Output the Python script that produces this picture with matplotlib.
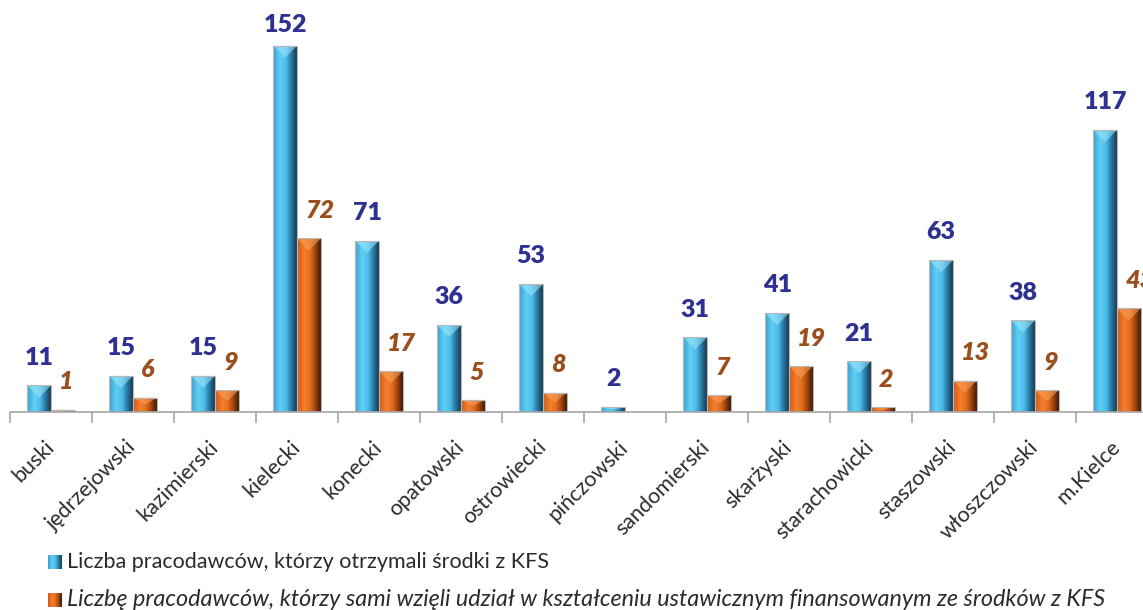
import numpy as np
import matplotlib.pyplot as plt
from matplotlib.colors import LinearSegmentedColormap
from matplotlib.patches import Rectangle, Polygon

plt.rcParams['font.family'] = ['Lato', 'DejaVu Sans']

powiaty = ['buski', 'jędrzejowski', 'kazimierski', 'kielecki', 'konecki',
           'opatowski', 'ostrowiecki', 'pińczowski', 'sandomierski',
           'skarżyski', 'starachowicki', 'staszowski', 'włoszczowski',
           'm.Kielce']
otrzymali = [11, 15, 15, 152, 71, 36, 53, 2, 31, 41, 21, 63, 38, 117]
sami = [1, 6, 9, 72, 17, 5, 8, 0, 7, 19, 2, 13, 9, 43]

legend_1 = 'Liczba pracodawców, którzy otrzymali środki z KFS'
legend_2 = ('Liczbę pracodawców, którzy sami wzięli udział w kształceniu '
            'ustawicznym finansowanym ze środków z KFS')

# bevelled look: light-to-dark gradient across each bar
blue_cm = LinearSegmentedColormap.from_list('blue', [
    (0.0, '#3f9fcf'), (0.3, '#5fd0f6'), (0.55, '#4dbbe6'),
    (0.75, '#2a7fad'), (1.0, '#1b3a4d')])
orange_cm = LinearSegmentedColormap.from_list('orange', [
    (0.0, '#d0581a'), (0.3, '#f57f2c'), (0.55, '#e26d1f'),
    (0.75, '#a84710'), (1.0, '#3e1c06')])
grad = np.linspace(0, 1, 64).reshape(1, -1)

W, H = 1143, 610
fig = plt.figure(figsize=(W / 100, H / 100), dpi=100)
ax = fig.add_axes([10 / W, 198 / H, 1148 / W, 412 / H])
ymax = 412 / 2.41

bw = 0.29


def bar(x0, h, cmap, tip):
    if h <= 0:
        return
    rect = Rectangle((x0, 0), bw, h, facecolor='none', edgecolor='#b8b8b8',
                     linewidth=0.8, zorder=3)
    ax.add_patch(rect)
    im = ax.imshow(grad, cmap=cmap, extent=[x0, x0 + bw, 0, h],
                   aspect='auto', zorder=2, interpolation='bilinear')
    im.set_clip_path(rect)
    d = min(5.0, h / 2)
    ax.add_patch(Polygon([(x0, h), (x0 + bw, h), (x0 + bw / 2, h - d)],
                         closed=True, facecolor=tip, edgecolor='none',
                         alpha=0.55, zorder=2.5))


x = np.arange(len(powiaty))
for i in x:
    bar(i - bw, otrzymali[i], blue_cm, '#9fe6fb')
    bar(i, sami[i], orange_cm, '#f9a35c')
    # the tallest label sits a little closer to its bar
    dy = 15 if otrzymali[i] == max(otrzymali) else 20
    ax.annotate(str(otrzymali[i]), (i - bw / 2, otrzymali[i]),
                xytext=(0, dy), textcoords='offset points',
                ha='center', va='center', fontsize=18, fontweight='heavy',
                color='#2e3192')
    if sami[i] > 0:
        ax.annotate(str(sami[i]), (i + 0.1, sami[i]),
                    xytext=(0, 20), textcoords='offset points',
                    ha='left', va='center', fontsize=18, fontweight='heavy',
                    fontstyle='italic', color='#9c4f1e')

ax.set_xlim(-0.5, len(powiaty) - 0.5)
ax.set_ylim(0, ymax)
for s in ['left', 'right', 'top']:
    ax.spines[s].set_visible(False)
ax.spines['bottom'].set_color('#a6a6a6')
ax.spines['bottom'].set_linewidth(1.2)
ax.set_yticks([])

ax.set_xticks(x)
ax.set_xticklabels(powiaty, rotation=45, ha='right', va='center',
                   rotation_mode='anchor', fontsize=15.5, color='#2b2b2b')
ax.tick_params(axis='x', which='major', length=0, pad=23)
ax.set_xticks(np.arange(-0.5, len(powiaty)), minor=True)
ax.tick_params(axis='x', which='minor', length=8, width=1.2,
               color='#a6a6a6')

# legend drawn by hand below the labels
for yc, cmap, text, style, fs in [(562, blue_cm, legend_1, 'normal', 15.5),
                                  (600, orange_cm, legend_2, 'italic', 16.8)]:
    lax = fig.add_axes([48 / W, (H - yc - 7) / H, 14 / W, 14 / H])
    lax.imshow(grad, cmap=cmap, aspect='auto', interpolation='bilinear')
    lax.axis('off')
    fig.text(67 / W, (H - yc) / H, text, ha='left', va='center',
             fontsize=fs, fontstyle=style, color='#2b2b2b')

fig.savefig('out.png', dpi=100)
